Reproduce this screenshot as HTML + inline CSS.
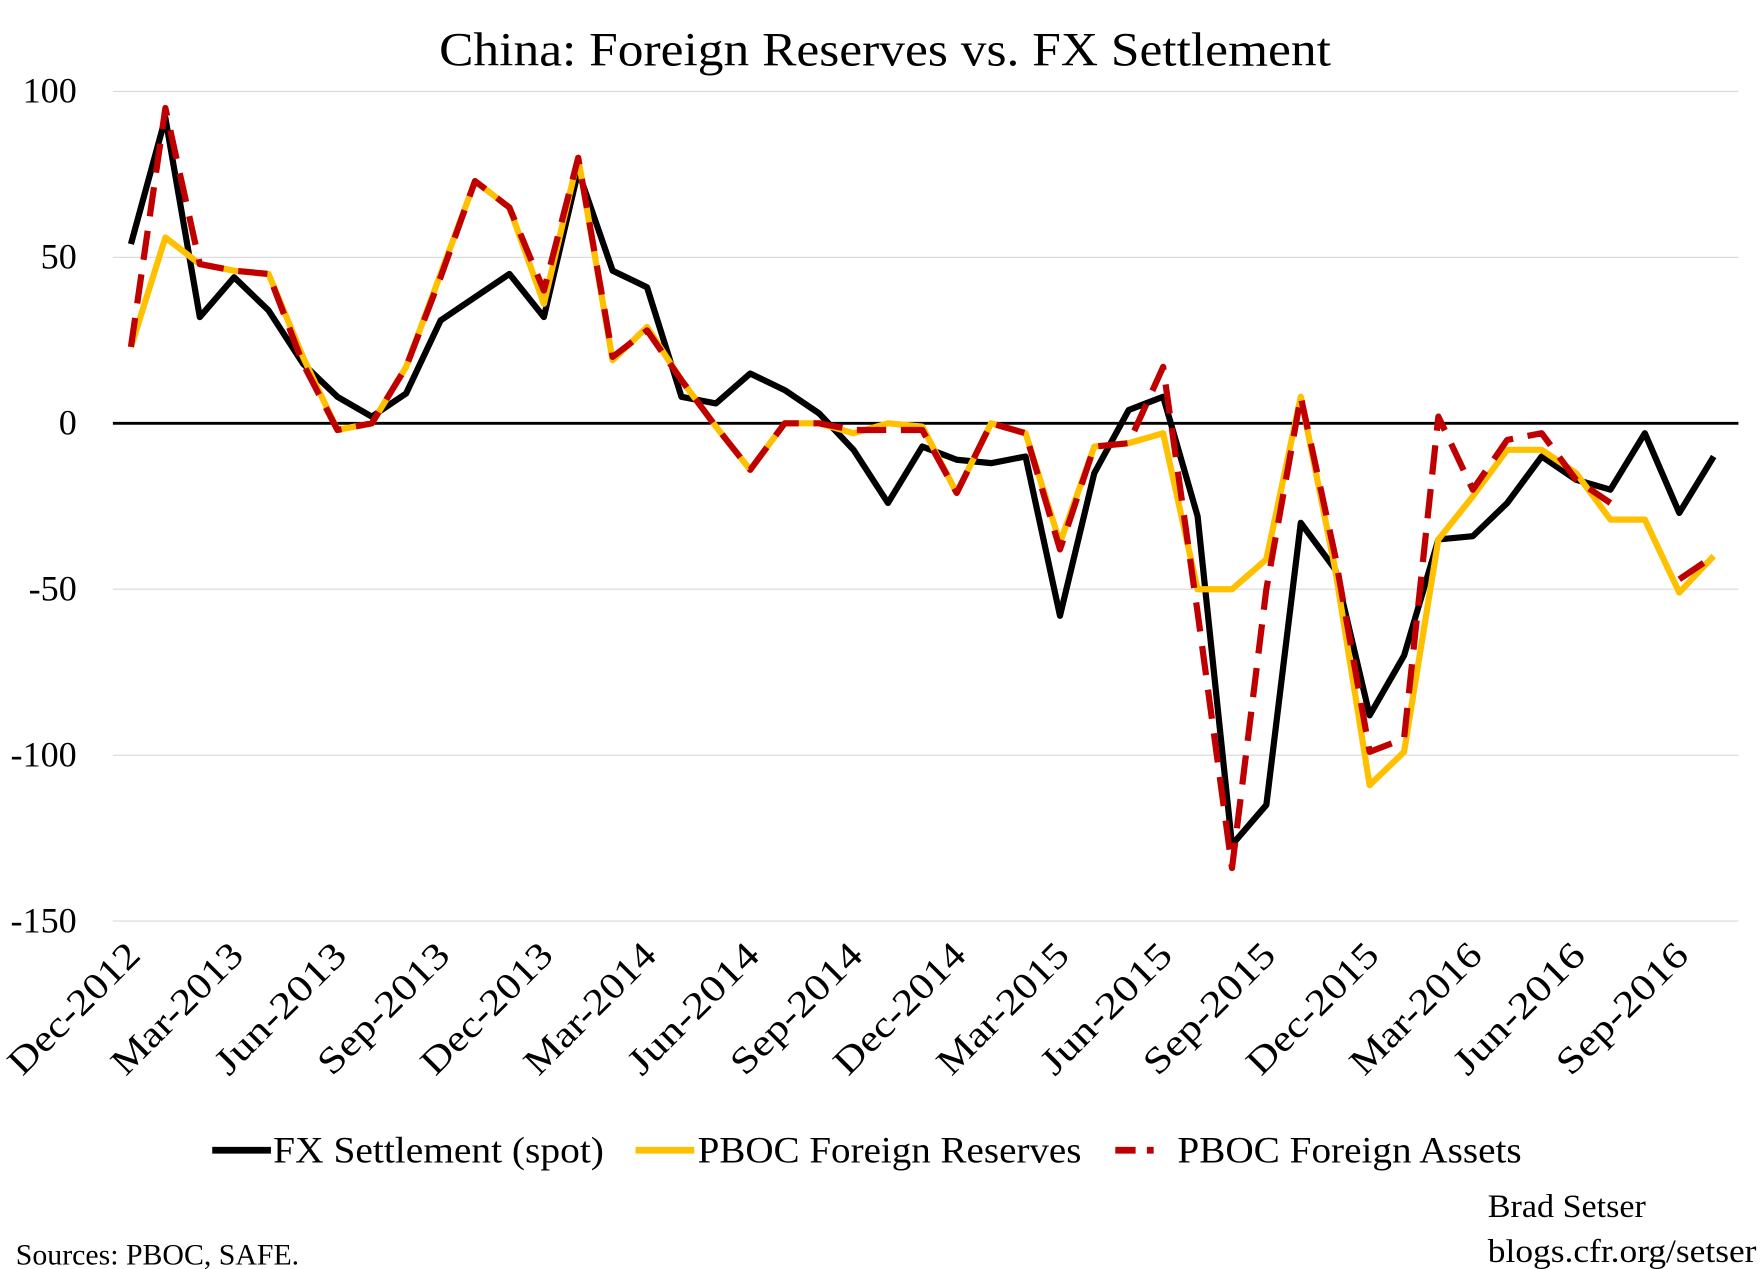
<!DOCTYPE html>
<html><head><meta charset="utf-8"><style>
html,body{margin:0;padding:0;background:#fff;}
svg{display:block;}
text{font-family:"Liberation Serif",serif;fill:#000;}
</style></head><body>
<svg id="c" width="1761" height="1269" viewBox="0 0 1560 1124.2" preserveAspectRatio="none" xmlns="http://www.w3.org/2000/svg">
<rect width="1560" height="1124.2" fill="#fff"/>
<text x="784" y="58" font-size="42" text-anchor="middle" textLength="790" lengthAdjust="spacingAndGlyphs">China: Foreign Reserves vs. FX Settlement</text>
<g stroke="#d9d9d9" stroke-width="1">
<line x1="100" x2="1540" y1="81" y2="81"/><line x1="100" x2="1540" y1="228" y2="228"/>
<line x1="100" x2="1540" y1="522" y2="522"/><line x1="100" x2="1540" y1="669" y2="669"/>
<line x1="100" x2="1540" y1="816" y2="816"/></g>
<line x1="100" x2="1540" y1="375" y2="375" stroke="#000" stroke-width="2.5"/>
<g font-size="32" text-anchor="end">
<text x="68" y="91">100</text><text x="68" y="238">50</text><text x="68" y="385">0</text>
<text x="68" y="532">-50</text><text x="68" y="679">-100</text><text x="68" y="826">-150</text></g>
<g id="xl" font-size="33" text-anchor="end"></g>
<g id="ln" fill="none" stroke-linejoin="round"></g>
<g font-size="33">
<line x1="188" x2="240" y1="1019" y2="1019" stroke="#000" stroke-width="6"/>
<text x="242" y="1030" textLength="293" lengthAdjust="spacingAndGlyphs">FX Settlement (spot)</text>
<line x1="563" x2="615" y1="1019" y2="1019" stroke="#ffc000" stroke-width="6"/>
<text x="618" y="1030" textLength="340" lengthAdjust="spacingAndGlyphs">PBOC Foreign Reserves</text>
<line x1="988" x2="1022" y1="1019" y2="1019" stroke="#c00000" stroke-width="6" stroke-dasharray="18,10"/>
<text x="1043" y="1030" textLength="305" lengthAdjust="spacingAndGlyphs">PBOC Foreign Assets</text>
</g>
<g font-size="29"><text x="1318" y="1078" textLength="140" lengthAdjust="spacingAndGlyphs">Brad Setser</text><text x="1318" y="1118" textLength="238" lengthAdjust="spacingAndGlyphs">blogs.cfr.org/setser</text>
<text x="14" y="1120" font-size="26" textLength="251" lengthAdjust="spacingAndGlyphs">Sources: PBOC, SAFE.</text></g>
</svg>
<script>
var X=function(i){return 116+i*30.63;},Y=function(v){return 375-v*2.94;};
X=function(i){return 116+i*30.48;};
var blk=[54,92,32,44,34,18,8,2,9,31,38,45,32,76,46,41,8,6,15,10,3,-8,-24,-7,-11,-12,-10,-58,-15,4,8,-28,-127,-115,-30,-44,-88,-70,-35,-34,-24,-10,-17,-20,-3,-27,-10];
var yel=[23,56,48,46,45,20,-2,0,17,45,73,65,36,80,19,29,13,-1,-14,0,0,-3,0,-1,-21,0,-3,-36,-7,-6,-3,-50,-50,-41,8,-44,-109,-99,-35,-22,-8,-8,-15,-29,-29,-51,-40];
var red=[23,95,48,46,45,18,-2,0,17,44,73,65,40,80,20,28,13,-1,-14,0,0,-2,-2,-2,-21,0,-3,-38,-7,-6,17,-57,-134,-50,8,-40,-99,-95,2,-20,-5,-3,-17,-24,null,-47,-40];
var ns="http://www.w3.org/2000/svg",g=document.getElementById("ln");
function pl(d,col,dash){var segs=[],cur=[];d.forEach(function(v,i){if(v===null){if(cur.length)segs.push(cur);cur=[];}else cur.push(X(i).toFixed(1)+","+Y(v).toFixed(1));});if(cur.length)segs.push(cur);
segs.forEach(function(s){var p=document.createElementNS(ns,"polyline");p.setAttribute("points",s.join(" "));p.setAttribute("stroke",col);p.setAttribute("stroke-width","5.5");if(dash){p.setAttribute("stroke-dasharray","26,13");}g.appendChild(p);});}
pl(blk,"#000");pl(yel,"#ffc000");pl(red,"#c00000",true);
var labs=["Dec-2012","Mar-2013","Jun-2013","Sep-2013","Dec-2013","Mar-2014","Jun-2014","Sep-2014","Dec-2014","Mar-2015","Jun-2015","Sep-2015","Dec-2015","Mar-2016","Jun-2016","Sep-2016"];
var xl=document.getElementById("xl");
labs.forEach(function(l,k){var x=X(k*3)+10,y=848;var t=document.createElementNS(ns,"text");t.setAttribute("x",x);t.setAttribute("y",y);t.setAttribute("transform","rotate(-45 "+x+" "+y+")");t.setAttribute("textLength","150");t.setAttribute("lengthAdjust","spacingAndGlyphs");t.textContent=l;xl.appendChild(t);});
</script>
</body></html>
